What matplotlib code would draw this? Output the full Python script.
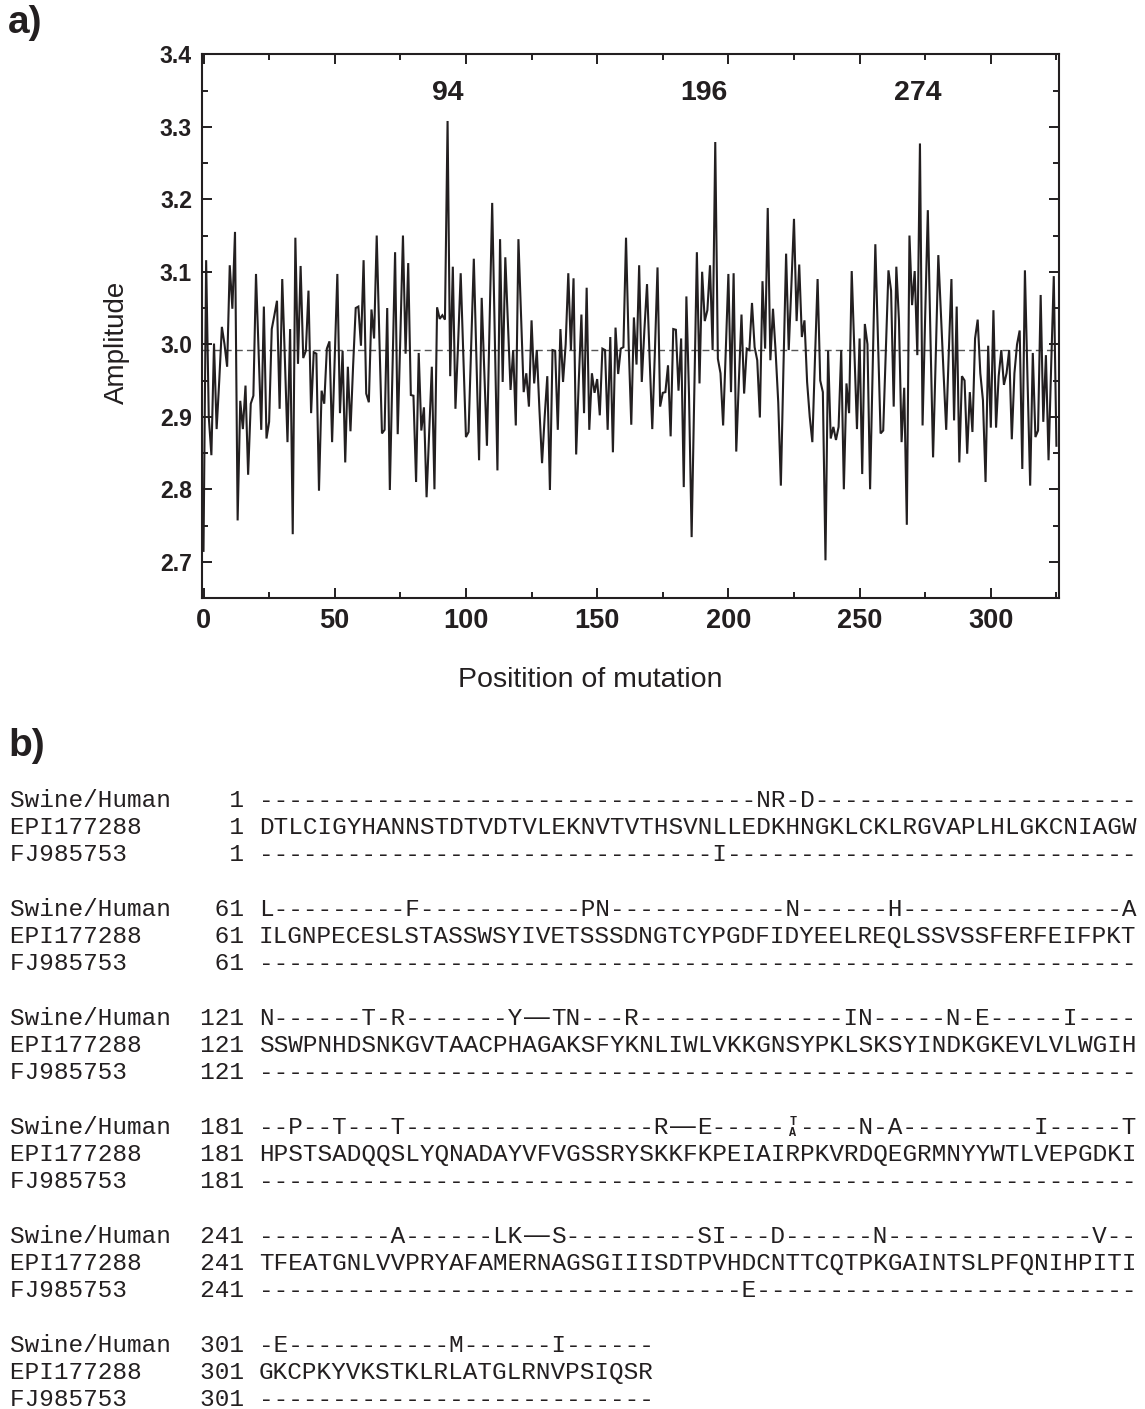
import numpy as np
import matplotlib
matplotlib.use("Agg")
import matplotlib.pyplot as plt
from matplotlib.ticker import MultipleLocator

# ---------------- data: panel a ----------------
amplitude = [
    2.715, 3.116, 2.900, 2.847, 3.001, 2.883, 2.950, 3.024, 3.000, 2.969,
    3.109, 3.049, 3.155, 2.757, 2.922, 2.883, 2.943, 2.820, 2.918, 2.929,
    3.097, 2.990, 2.882, 3.052, 2.870, 2.893, 3.021, 3.040, 3.060, 2.911,
    3.090, 2.980, 2.865, 3.021, 2.738, 3.147, 2.973, 3.108, 2.981, 2.991,
    3.074, 2.905, 2.989, 2.987, 2.798, 2.936, 2.918, 2.994, 3.004, 2.865,
    2.980, 3.097, 2.905, 2.991, 2.837, 2.969, 2.880, 2.970, 3.050, 3.052,
    2.998, 3.116, 2.932, 2.920, 3.048, 3.008, 3.150, 3.010, 2.877, 2.882,
    3.050, 2.799, 2.960, 3.127, 2.876, 3.010, 3.150, 2.987, 3.112, 2.930,
    2.929, 2.810, 2.988, 2.881, 2.913, 2.789, 2.880, 2.969, 2.800, 3.051,
    3.035, 3.040, 3.034, 3.308, 2.956, 3.107, 2.911, 3.000, 3.098, 2.985,
    2.872, 2.879, 3.000, 3.118, 2.980, 2.840, 3.064, 2.960, 2.860, 3.030,
    3.195, 3.010, 2.826, 3.145, 2.948, 3.120, 3.030, 2.937, 2.992, 2.888,
    3.145, 3.040, 2.934, 2.960, 2.914, 3.033, 2.946, 2.992, 2.910, 2.836,
    2.900, 2.956, 2.799, 2.992, 2.991, 2.882, 3.021, 2.948, 3.000, 3.098,
    2.992, 3.091, 2.848, 2.950, 3.041, 2.905, 3.078, 2.882, 2.960, 2.933,
    2.952, 2.902, 2.994, 2.992, 2.882, 3.010, 2.851, 3.023, 2.959, 2.994,
    2.996, 3.147, 3.000, 2.889, 3.037, 2.972, 3.109, 2.948, 3.020, 3.083,
    2.980, 2.883, 2.990, 3.106, 2.914, 2.933, 2.934, 2.971, 2.873, 3.021,
    3.020, 2.936, 3.008, 2.803, 3.066, 2.930, 2.734, 2.930, 3.127, 2.946,
    3.100, 3.032, 3.047, 3.109, 2.992, 3.279, 2.980, 2.960, 2.888, 2.990,
    3.097, 2.934, 3.098, 2.852, 2.950, 3.041, 2.932, 2.994, 2.992, 3.057,
    2.996, 2.978, 2.899, 3.087, 2.994, 3.188, 2.978, 3.049, 2.990, 2.920,
    2.805, 2.970, 3.125, 2.992, 3.080, 3.173, 3.032, 3.110, 3.010, 3.033,
    2.948, 2.900, 2.865, 2.980, 3.090, 2.950, 2.934, 2.702, 2.991, 2.870,
    2.886, 2.868, 2.886, 2.992, 2.800, 2.946, 2.905, 3.101, 2.990, 2.883,
    3.008, 2.821, 3.028, 3.000, 2.800, 2.970, 3.138, 3.010, 2.877, 2.881,
    2.990, 3.102, 3.074, 2.914, 3.107, 3.033, 2.865, 2.940, 2.751, 3.150,
    3.054, 3.101, 2.985, 3.277, 2.888, 3.040, 3.185, 3.010, 2.844, 2.980,
    3.123, 3.040, 2.960, 2.882, 2.990, 3.090, 2.895, 3.052, 2.837, 2.956,
    2.950, 2.849, 2.934, 2.879, 3.008, 3.034, 2.960, 2.923, 2.810, 2.998,
    2.885, 3.047, 2.885, 2.956, 2.992, 2.944, 2.960, 2.992, 2.869, 2.960,
    3.000, 3.019, 2.828, 3.102, 2.950, 2.805, 2.988, 2.872, 2.881, 3.068,
    2.893, 2.985, 2.840, 2.970, 3.094, 2.860,
]
mean_level = 2.992
peak_positions = [94, 196, 274]
peak_label_shift = [0.0, -4.5, -1.0]
x_ticks = [0, 50, 100, 150, 200, 250, 300]
y_ticks = [2.7, 2.8, 2.9, 3.0, 3.1, 3.2, 3.3, 3.4]

# ---------------- data: panel b ----------------
seq_names = ["Swine/Human", "EPI177288", "FJ985753"]
block_starts = [1, 61, 121, 181, 241, 301]
swine_rows = [
    "-" * 34 + "NR-D" + "-" * 22,
    "L" + "-" * 9 + "F" + "-" * 11 + "PN" + "-" * 12 + "N" + "-" * 6 + "H" + "-" * 15 + "A",
    "N------T-R-------Y\u2014TN---R" + "-" * 14 + "IN-----N-E-----I----",
    "--P--T---T" + "-" * 17 + "R\u2014E-----[T/A]----N-A---------I-----T",
    "---------A------LK\u2014S---------SI---D------N" + "-" * 14 + "V--",
    "-E-----------M------I------",
]
epi_rows = [
    "DTLCIGYHANNSTDTVDTVLEKNVTVTHSVNLLEDKHNGKLCKLRGVAPLHLGKCNIAGW",
    "ILGNPECESLSTASSWSYIVETSSSDNGTCYPGDFIDYEELREQLSSVSSFERFEIFPKT",
    "SSWPNHDSNKGVTAACPHAGAKSFYKNLIWLVKKGNSYPKLSKSYINDKGKEVLVLWGIH",
    "HPSTSADQQSLYQNADAYVFVGSSRYSKKFKPEIAIRPKVRDQEGRMNYYWTLVEPGDKI",
    "TFEATGNLVVPRYAFAMERNAGSGIIISDTPVHDCNTTCQTPKGAINTSLPFQNIHPITI",
    "GKCPKYVKSTKLRLATGLRNVPSIQSR",
]
fj_rows = [
    "-" * 31 + "I" + "-" * 28,
    "-" * 60,
    "-" * 60,
    "-" * 60,
    "-" * 33 + "E" + "-" * 26,
    "-" * 27,
]

# ---------------- figure ----------------
W, H = 1145, 1409
fig = plt.figure(figsize=(W / 100, H / 100), dpi=100)
SANS = ["Liberation Sans", "DejaVu Sans"]
MONO = ["Liberation Mono", "DejaVu Sans Mono"]
INK = "#231f20"


def fx(px):
    return px / W


def fy(py):
    return 1 - py / H


ax = fig.add_axes([fx(201.7), fy(598), fx(1059.3) - fx(201.7), fy(54.3) - fy(598)])
xs = np.arange(len(amplitude))
ax.plot(xs, amplitude, color=INK, lw=1.5, solid_joinstyle="miter", zorder=3)
ax.axhline(mean_level, color="#555555", lw=1.0, ls=(0, (5, 3)), zorder=2)
ax.set_xlim(-0.69, 326.1)
ax.set_ylim(2.65, 3.4)
ax.set_xticks(x_ticks)
ax.set_yticks(y_ticks)
ax.set_xticklabels([str(v) for v in x_ticks], fontsize=19.5, fontweight="bold", family=SANS)
ax.set_yticklabels([f"{v:.1f}" for v in y_ticks], fontsize=16.6, fontweight="bold", family=SANS)
ax.xaxis.set_minor_locator(MultipleLocator(25))
ax.yaxis.set_minor_locator(MultipleLocator(0.05))
ax.tick_params(which="both", direction="in", top=True, right=True, width=1.4, color=INK,
               labelcolor=INK)
ax.tick_params(which="major", length=7.5)
ax.tick_params(which="minor", length=4)
ax.tick_params(axis="x", which="major", pad=7)
ax.tick_params(axis="y", which="major", pad=7)
for s in ax.spines.values():
    s.set_linewidth(1.5)
    s.set_color(INK)

ax.set_ylabel("Amplitude", fontsize=20, family=SANS, color=INK)
ax.yaxis.set_label_coords(-0.084, 0.47)
ax.set_xlabel("Positition of mutation", fontsize=20.5, family=SANS, color=INK)
ax.xaxis.set_label_coords(0.4528, -0.127)

for pos, sh in zip(peak_positions, peak_label_shift):
    ax.text(pos - 1 + sh, 3.347, str(pos), ha="center", va="center",
            fontsize=20.5, fontweight="bold", family=SANS, color=INK)

fig.text(fx(8), fy(23), "a)", fontsize=28, fontweight="bold", family=SANS,
         ha="left", va="center", color=INK)
fig.text(fx(8), fy(746), "b)", fontsize=28, fontweight="bold", family=SANS,
         ha="left", va="center", color=INK)

# ---------------- panel b: alignment text ----------------
CW = 14.63          # column width in px
FS = CW / 0.6 * 0.72
X0 = 10.0
SEQ_COL = 17


def parse(row):
    cells = []
    i = 0
    while i < len(row):
        if row.startswith("[T/A]", i):
            cells.append(("stack", "T", "A"))
            i += 5
        elif row[i] == "\u2014":
            cells.append(("emdash",))
            cells.append(("skip",))
            i += 1
        else:
            cells.append(("ch", row[i]))
            i += 1
    return cells


def mono(xpx, base, s):
    fig.text(fx(xpx), fy(base), s, family=MONO, fontsize=FS, color=INK,
             ha="left", va="baseline")


def draw_row(y_center, name, start, row):
    base = y_center + 7
    mono(X0, base, f"{name:<13}{start:>3}")
    cells = parse(row)
    seg, seg_start = "", 0
    for k, c in enumerate(cells):
        xl = X0 + (SEQ_COL + k) * CW
        if c[0] == "ch":
            if not seg:
                seg_start = k
            seg += c[1]
            continue
        if seg:
            mono(X0 + (SEQ_COL + seg_start) * CW, base, seg)
            seg = ""
        if c[0] == "emdash":
            fig.text(fx(xl + CW), fy(y_center), "\u2014", family=SANS, fontsize=18.5,
                     color=INK, ha="center", va="center")
        elif c[0] == "stack":
            fig.text(fx(xl + CW / 2), fy(y_center - 5), c[1], family=MONO, fontsize=8.5,
                     fontweight="bold", color=INK, ha="center", va="center")
            fig.text(fx(xl + CW / 2), fy(y_center + 6), c[2], family=MONO, fontsize=8.5,
                     fontweight="bold", color=INK, ha="center", va="center")
    if seg:
        mono(X0 + (SEQ_COL + seg_start) * CW, base, seg)


for b, start in enumerate(block_starts):
    y0 = 800 + 109 * b
    rows = [swine_rows[b], epi_rows[b], fj_rows[b]]
    for r, (name, row) in enumerate(zip(seq_names, rows)):
        draw_row(y0 + 27 * r, name, start, row)

fig.savefig("out.png", dpi=100)
